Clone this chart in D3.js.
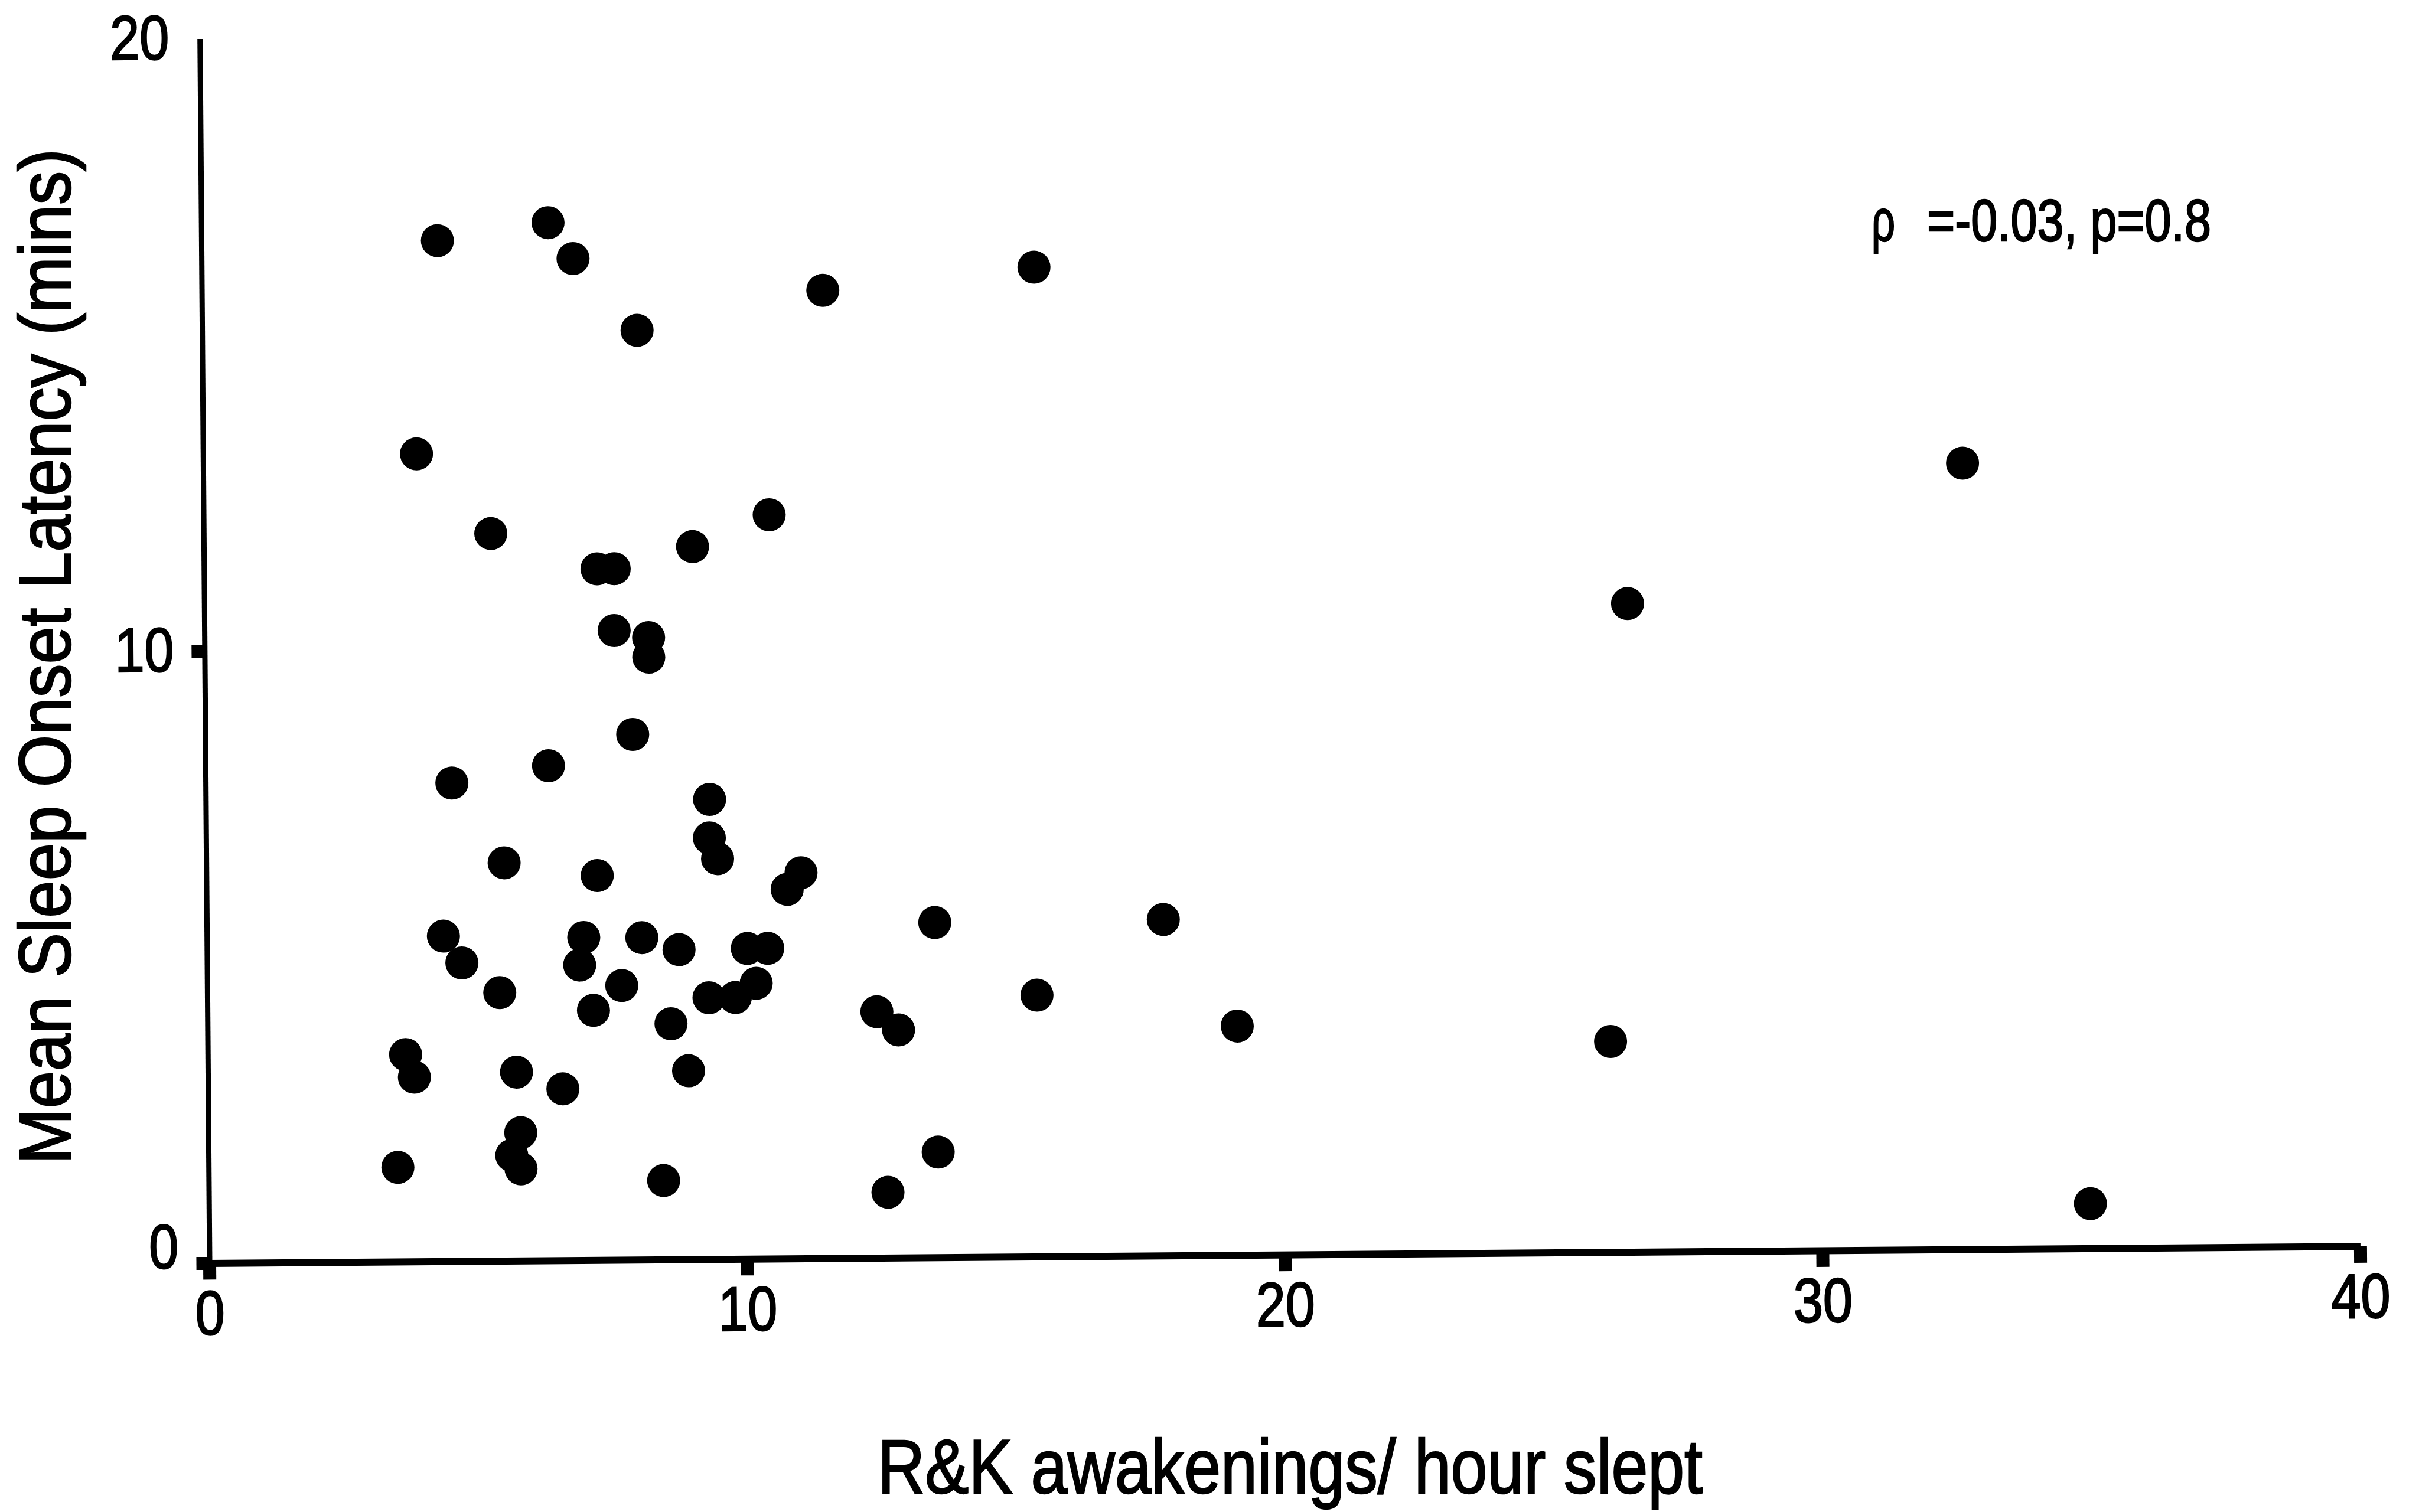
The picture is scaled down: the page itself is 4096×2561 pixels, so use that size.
<!DOCTYPE html>
<html>
<head>
<meta charset="utf-8">
<script src="https://cdn.jsdelivr.net/npm/d3@7"></script>
<style>
  html, body { margin: 0; padding: 0; background: #fff; }
  svg { display: block; }
  text { font-family: "Liberation Sans", Arial, sans-serif; fill: #000; stroke: #000; stroke-width: 2.5px; }
</style>
</head>
<body>
<svg width="4096" height="2561"></svg>
<script>
// one dot per subject: R&K awakenings per hour slept vs mean sleep onset latency
const awakenings = [
  4.39, 6.45, 6.91, 8.09, 11.55, 15.48, 3.97, 5.34, 7.31, 7.63,
  9.09, 10.52, 7.62, 8.26, 8.26, 7.95, 4.58, 6.38, 9.37, 9.36,
  9.51, 5.54, 7.27, 10.80, 11.06, 13.54, 17.79, 4.40, 4.74, 7.01,
  6.93, 8.09, 8.78, 10.05, 10.43, 5.44, 7.71, 7.18, 9.33, 9.82,
  10.21, 12.45, 12.85, 8.62, 15.43, 19.15, 26.09, 3.68, 3.84, 5.74,
  6.60, 8.94, 5.81, 5.64, 5.81, 3.52, 8.46, 12.63, 13.57, 34.99,
  32.72, 26.47,
];
const latency = [
  16.67, 16.95, 16.36, 15.18, 15.81, 16.16, 13.19, 11.88, 11.29, 11.29,
  11.64, 12.15, 10.28, 10.16, 9.84, 8.58, 7.81, 8.08, 7.51, 6.88,
  6.54, 6.50, 6.28, 6.03, 6.30, 5.47, 5.49, 5.31, 4.87, 5.27,
  4.82, 5.26, 5.06, 5.07, 5.07, 4.38, 4.48, 4.08, 4.27, 4.27,
  4.50, 4.02, 3.72, 3.85, 4.27, 3.74, 3.44, 3.38, 3.01, 3.08,
  2.80, 3.08, 2.09, 1.72, 1.50, 1.54, 1.29, 1.07, 1.72, 0.73,
  12.84, 10.59,
];
const xTicks = [0, 10, 20, 30, 40];
const yTicks = [0, 10, 20];
const xTitle = 'R&K awakenings/ hour slept';
const yTitle = 'Mean Sleep Onset Latency (mins)';
const statSymbol = 'ρ';
const statText = '=-0.03, p=0.8';

const config = {
  originX: 354.5,
  originY: 2139.4,
  tilt: -0.45, // the scanned figure sits slightly rotated
  plotW: 3642,
  plotH: 2074,
  dotR: 28,
  tickFont: 106,
  digitW: 50, // condensed digit advance
};

const points = awakenings.map((a, i) => ({x: a, y: latency[i]}));

const svg = d3.select('svg');
const plot = svg.append('g')
  .attr('transform', `translate(${config.originX},${config.originY}) rotate(${config.tilt})`);

const x = d3.scaleLinear().domain([0, 40]).range([0, config.plotW]);
const y = d3.scaleLinear().domain([0, 20]).range([0, -config.plotH]);

function styleLabels(g) {
  g.attr('font-family', null).attr('font-size', null);
  g.selectAll('text')
    .attr('font-size', config.tickFont)
    .attr('fill', '#000')
    .attr('textLength', d => String(d).length * config.digitW)
    .attr('lengthAdjust', 'spacingAndGlyphs');
}

// x axis
const gx = plot.append('g')
  .call(d3.axisBottom(x).tickValues(xTicks).tickSize(28).tickSizeOuter(0).tickPadding(18));
gx.select('.domain').attr('stroke', '#000').attr('stroke-width', 12);
gx.selectAll('.tick line').attr('stroke', '#000').attr('stroke-width', 22);
styleLabels(gx);

// y axis
const gy = plot.append('g')
  .call(d3.axisLeft(y).tickValues(yTicks).tickSize(22).tickSizeOuter(0).tickPadding(30));
gy.select('.domain').attr('stroke', '#000').attr('stroke-width', 9);
gy.selectAll('.tick line').attr('stroke', '#000').attr('stroke-width', 22);
gy.selectAll('.tick').filter(d => d === 20).select('line').remove();
gy.selectAll('.tick').filter(d => d === 0).select('text').attr('y', -26);
styleLabels(gy);

// dots
plot.append('g')
  .selectAll('circle')
  .data(points)
  .enter()
  .append('circle')
  .attr('cx', d => x(d.x))
  .attr('cy', d => y(d.y))
  .attr('r', config.dotR)
  .attr('fill', '#000');

// axis titles
svg.append('text')
  .attr('transform', 'translate(119,1112) rotate(-90)')
  .attr('text-anchor', 'middle')
  .attr('font-size', 124)
  .attr('textLength', 1720)
  .attr('lengthAdjust', 'spacingAndGlyphs')
  .text(yTitle);

svg.append('text')
  .attr('x', 2184.5)
  .attr('y', 2529)
  .attr('text-anchor', 'middle')
  .attr('font-size', 130)
  .attr('textLength', 1397)
  .attr('lengthAdjust', 'spacingAndGlyphs')
  .text(xTitle);

// correlation note
svg.append('text')
  .attr('x', 3169)
  .attr('y', 408)
  .attr('font-size', 100)
  .attr('textLength', 40)
  .attr('lengthAdjust', 'spacingAndGlyphs')
  .text(statSymbol);
svg.append('text')
  .attr('x', 3263)
  .attr('y', 408)
  .attr('font-size', 100)
  .attr('textLength', 481)
  .attr('lengthAdjust', 'spacingAndGlyphs')
  .text(statText);
</script>
</body>
</html>
